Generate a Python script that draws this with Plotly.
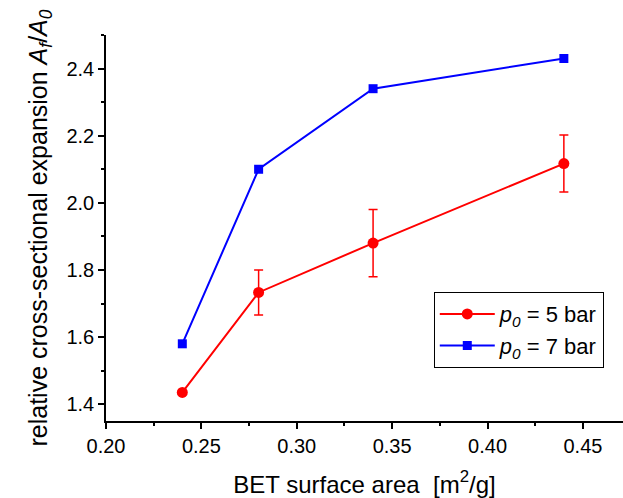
import plotly.graph_objects as go

bet = [0.24, 0.28, 0.34, 0.44]
exp_5bar = [1.435, 1.733, 1.88, 2.117]
err_5bar = [0.0, 0.067, 0.10, 0.085]
exp_7bar = [1.58, 2.10, 2.34, 2.43]

font = "Liberation Sans, Arial, sans-serif"

fig = go.Figure()
fig.add_trace(go.Scatter(
    x=bet, y=exp_5bar, mode="lines+markers",
    name="<i>p<sub>0</sub></i> = 5 bar",
    line=dict(color="#ff0000", width=2),
    marker=dict(symbol="circle", size=11, color="#ff0000"),
    error_y=dict(type="data", array=err_5bar, visible=True, color="#ff0000", thickness=1.5, width=4.5),
))
fig.add_trace(go.Scatter(
    x=bet, y=exp_7bar, mode="lines+markers",
    name="<i>p<sub>0</sub></i> = 7 bar",
    line=dict(color="#0000ff", width=2),
    marker=dict(symbol="square", size=9, color="#0000ff"),
))

fig.update_layout(
    width=623, height=498,
    margin=dict(l=106, r=0, t=35, b=77),
    paper_bgcolor="white", plot_bgcolor="white",
    font=dict(family=font, size=20, color="black"),
    showlegend=True,
    legend=dict(x=0.634, y=0.334, xanchor="left", yanchor="top",
                bordercolor="black", borderwidth=1, bgcolor="white",
                font=dict(size=22), itemwidth=55, tracegroupgap=0),
    xaxis=dict(range=[0.2, 0.471], tickvals=[0.20, 0.25, 0.30, 0.35, 0.40, 0.45],
               ticktext=["0.20", "0.25", "0.30", "0.35", "0.40", "0.45"],
               showgrid=False, zeroline=False, showline=True, linecolor="black", linewidth=1.5,
               ticks="outside", ticklen=6, tickwidth=1.5, tickcolor="black",
               tickfont=dict(size=20),
               minor=dict(dtick=0.025, ticks="outside", ticklen=3, tickwidth=1.5, tickcolor="black"),
               title=dict(text="BET surface area  [m<sup>2</sup>/g]", font=dict(size=24), standoff=20)),
    yaxis=dict(range=[1.35, 2.5], tickvals=[1.4, 1.6, 1.8, 2.0, 2.2, 2.4],
               ticktext=["1.4", "1.6", "1.8", "2.0", "2.2", "2.4"],
               showgrid=False, zeroline=False, showline=True, linecolor="black", linewidth=1.5,
               ticks="outside", ticklen=6, tickwidth=1.5, tickcolor="black",
               tickfont=dict(size=20),
               minor=dict(dtick=0.1, ticks="outside", ticklen=3, tickwidth=1.5, tickcolor="black"),
               title=dict(text="relative cross-sectional expansion <i>A<sub>f</sub></i>/<i>A<sub>0</sub></i>",
                          font=dict(size=25), standoff=12)),
)

fig.write_html("out.html")
